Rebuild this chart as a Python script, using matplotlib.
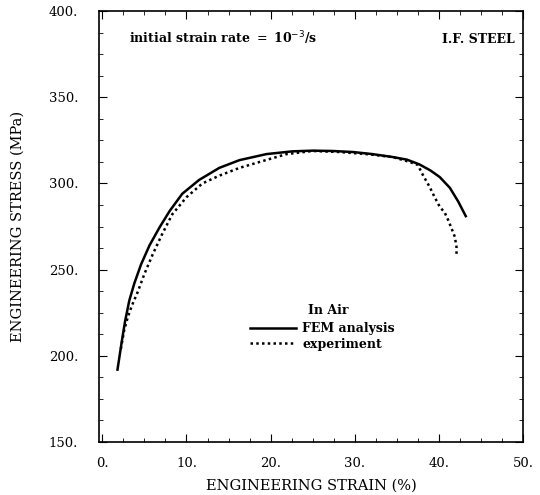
import numpy as np
import matplotlib
matplotlib.use("Agg")
import matplotlib.pyplot as plt
from matplotlib.ticker import MultipleLocator

# FEM analysis (solid)
fem_strain = [1.8, 2.3, 2.7, 3.2, 3.8, 4.6, 5.6, 6.8, 8.0, 9.5, 11.5, 13.9, 16.3,
              19.5, 22.6, 25.0, 27.4, 29.8, 32.1, 34.5, 36.2, 37.7, 39.0, 40.1,
              41.3, 42.3, 43.2]
fem_stress = [192, 208, 220, 232, 242, 253, 264, 274.5, 284, 294, 302, 309, 313.5,
              317, 318.6, 319, 318.8, 318.2, 317, 315.3, 313.8, 311, 307.5, 303.7,
              297.5, 289.5, 281]

# experiment (dotted)
exp_strain = [2.2, 2.6, 3.0, 3.5, 4.2, 5.0, 6.0, 7.1, 8.3, 10.0, 11.9, 13.9, 16.3,
              19.5, 21.9, 25.0, 28.2, 31.4, 34.5, 36.5, 37.5, 38.1, 38.9, 39.5,
              40.1, 40.7, 41.1, 41.5, 41.9, 42.1, 42.1]
exp_stress = [204, 215, 222, 229, 237, 247.5, 259, 270.5, 282, 292, 300, 304.5, 309,
              313.6, 317, 318.8, 318.2, 317, 315.3, 312.5, 310.7, 304.9, 298, 292,
              286.5, 283, 278.8, 274, 269, 263, 258.5]

plt.rcParams['font.family'] = ['DejaVu Serif']

fig = plt.figure(figsize=(5.4, 4.95), dpi=100)
ax = fig.add_axes([0.1833, 0.107, 0.7852, 0.8708])

ax.plot(fem_strain, fem_stress, color='black', lw=1.8, label='FEM analysis')
ax.plot(exp_strain, exp_stress, color='black', lw=1.8, ls=(0, (1, 1.3)), label='experiment')

ax.set_xlim(-0.4, 50)
ax.set_ylim(150, 400)
ax.xaxis.set_minor_locator(MultipleLocator(2.5))
ax.yaxis.set_minor_locator(MultipleLocator(12.5))
ax.set_xticks([0, 10, 20, 30, 40, 50])
ax.set_xticklabels(['0.', '10.', '20.', '30.', '40.', '50.'])
ax.set_yticks([150, 200, 250, 300, 350, 400])
ax.set_yticklabels(['150.', '200.', '250.', '300.', '350.', '400.'])
ax.tick_params(which='both', direction='in', top=True, right=True, labelsize=9.5)
ax.tick_params(which='major', length=6)
ax.tick_params(which='minor', length=3)
ax.tick_params(axis='x', which='major', pad=11)
ax.tick_params(axis='y', which='major', pad=15)
for s in ax.spines.values():
    s.set_linewidth(1.2)

ax.set_xlabel('ENGINEERING STRAIN (%)', fontsize=10.5, labelpad=6)
ax.set_ylabel('ENGINEERING STRESS (MPa)', fontsize=10.5, labelpad=17)

ax.text(0.07, 0.925, r'initial strain rate $=$ 10$^{-3}$/s', transform=ax.transAxes,
        fontsize=9, fontweight='bold')
ax.text(0.98, 0.925, 'I.F. STEEL', transform=ax.transAxes, fontsize=9,
        fontweight='bold', ha='right')

# legend
ax.text(0.493, 0.304, 'In Air', transform=ax.transAxes, fontsize=9,
        fontweight='bold', va='center')
leg = ax.legend(loc='upper left', bbox_to_anchor=(0.356, 0.278), frameon=False,
                fontsize=9, handlelength=3.7, borderpad=0, borderaxespad=0,
                labelspacing=0.2, handletextpad=0.5)
for t in leg.get_texts():
    t.set_fontweight('bold')

fig.savefig('out.png', dpi=100)
